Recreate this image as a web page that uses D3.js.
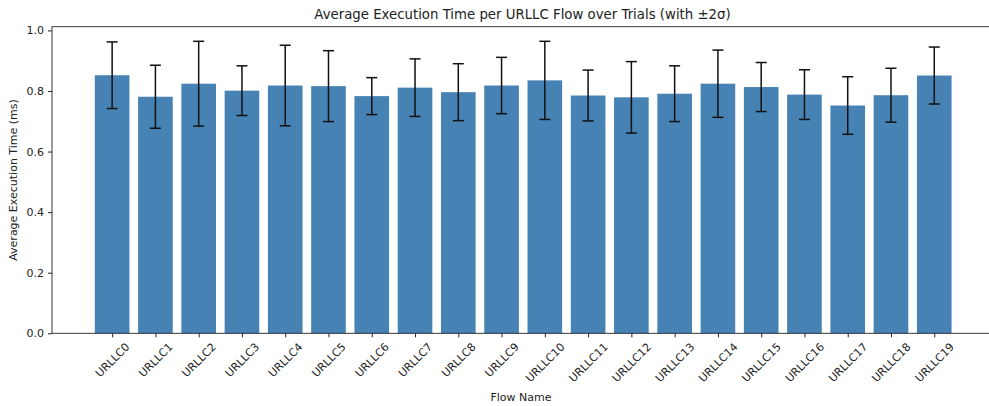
<!DOCTYPE html>
<html>
<head>
<meta charset="utf-8">
<script src="https://cdn.jsdelivr.net/npm/d3@7"></script>
<style>
  html, body { margin: 0; padding: 0; background: #fff; overflow: hidden; }
  svg { display: block; font-family: "DejaVu Sans", sans-serif; }
</style>
</head>
<body>
<svg id="chart" width="989" height="406"></svg>
<script>
// Flow names and per-flow statistics (mean and 2σ), in ms
const flows = ["URLLC0","URLLC1","URLLC2","URLLC3","URLLC4","URLLC5","URLLC6","URLLC7","URLLC8","URLLC9",
               "URLLC10","URLLC11","URLLC12","URLLC13","URLLC14","URLLC15","URLLC16","URLLC17","URLLC18","URLLC19"];
const meanTimes = [0.852, 0.781, 0.824, 0.801, 0.818, 0.816, 0.783, 0.811, 0.796, 0.818,
                   0.835, 0.785, 0.779, 0.791, 0.824, 0.813, 0.788, 0.752, 0.786, 0.851];
const twoSigma  = [0.110, 0.104, 0.140, 0.082, 0.133, 0.117, 0.061, 0.095, 0.094, 0.093,
                   0.129, 0.084, 0.118, 0.092, 0.111, 0.081, 0.082, 0.095, 0.089, 0.094];
const yTicks = [0.0, 0.2, 0.4, 0.6, 0.8, 1.0];

const svg = d3.select("#chart");
const plot = { left: 52, right: 994.4, top: 26.7, bottom: 333.3 };

const n = flows.length;
const barW = 0.8;
const pad = 0.05 * ((n - 1 + barW / 2) - (-barW / 2));
const x = d3.scaleLinear()
  .domain([-barW / 2 - pad, n - 1 + barW / 2 + pad])
  .range([plot.left, plot.right]);

const yMax = d3.max(meanTimes.map((m, i) => m + twoSigma[i])) * 1.05;
const y = d3.scaleLinear().domain([0, yMax]).range([plot.bottom, plot.top]);

const data = flows.map((f, i) => ({ flow: f, i, mean: meanTimes[i], err: twoSigma[i] }));

// bars
svg.append("g").selectAll("rect").data(data).join("rect")
  .attr("x", d => x(d.i - barW / 2))
  .attr("y", d => y(d.mean))
  .attr("width", d => x(d.i + barW / 2) - x(d.i - barW / 2))
  .attr("height", d => y(0) - y(d.mean))
  .attr("fill", "#4682b4");

// error bars (±2σ)
const eb = svg.append("g").attr("stroke", "#111").attr("stroke-width", 1.5);
const cap = 5.5;
data.forEach(d => {
  const cx = x(d.i);
  eb.append("line").attr("x1", cx).attr("x2", cx)
    .attr("y1", y(d.mean - d.err)).attr("y2", y(d.mean + d.err));
  [d.mean - d.err, d.mean + d.err].forEach(v => {
    eb.append("line").attr("x1", cx - cap).attr("x2", cx + cap)
      .attr("y1", y(v)).attr("y2", y(v));
  });
});

// frame
svg.append("rect")
  .attr("x", plot.left).attr("y", plot.top)
  .attr("width", plot.right - plot.left).attr("height", plot.bottom - plot.top)
  .attr("fill", "none").attr("stroke", "#222").attr("stroke-width", 0.9);

// y axis
const yAxis = svg.append("g")
  .attr("transform", `translate(${plot.left},0)`)
  .call(d3.axisLeft(y).tickValues(yTicks).tickFormat(d3.format(".1f")).tickSize(4).tickPadding(4));
yAxis.select(".domain").remove();
yAxis.selectAll("text").attr("font-size", 11).attr("fill", "#222").attr("font-family", "DejaVu Sans");
yAxis.selectAll("line").attr("stroke", "#222");

// x axis
const xAxis = svg.append("g")
  .attr("transform", `translate(0,${plot.bottom})`)
  .call(d3.axisBottom(x).tickValues(d3.range(n)).tickFormat(i => flows[i]).tickSize(4));
xAxis.select(".domain").remove();
xAxis.selectAll("line").attr("stroke", "#222");
xAxis.selectAll("text")
  .attr("font-size", 11).attr("fill", "#222").attr("font-family", "DejaVu Sans")
  .attr("text-anchor", "middle").attr("dominant-baseline", "central").attr("dy", null)
  .each(function () {
    const t = d3.select(this);
    const w = this.getComputedTextLength();
    const h = 11 * 1.0;
    const s = Math.SQRT1_2;
    const boxH = (w + h) * s;
    const cy = 8 + boxH / 2;
    t.attr("y", cy).attr("x", 0).attr("transform", `rotate(-45,0,${cy})`);
  });

// title and axis labels
svg.append("text")
  .attr("x", 522.5).attr("y", 19)
  .attr("text-anchor", "middle").attr("font-size", 13.3).attr("fill", "#222")
  .text("Average Execution Time per URLLC Flow over Trials (with ±2σ)");

svg.append("text")
  .attr("x", 521).attr("y", 401)
  .attr("text-anchor", "middle").attr("font-size", 11).attr("fill", "#222")
  .text("Flow Name");

svg.append("text")
  .attr("transform", `translate(17,${(plot.top + plot.bottom) / 2}) rotate(-90)`)
  .attr("text-anchor", "middle").attr("font-size", 11).attr("fill", "#222")
  .text("Average Execution Time (ms)");
</script>
</body>
</html>
